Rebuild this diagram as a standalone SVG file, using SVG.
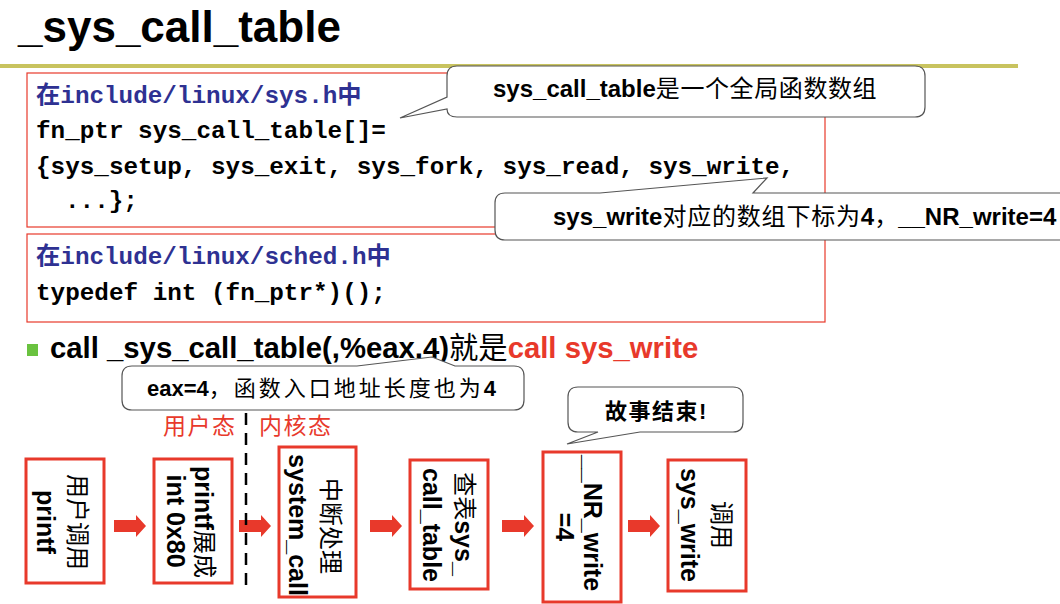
<svg xmlns="http://www.w3.org/2000/svg" xmlns:xlink="http://www.w3.org/1999/xlink" width="1060" height="604" viewBox="0 0 1060 604">
<style>
.sans{font-family:"Liberation Sans","Noto Sans CJK SC",sans-serif;}
.mono{font-family:"Liberation Mono","Noto Sans CJK SC",monospace;font-weight:bold;font-size:24.3px;}
.b{font-weight:bold;}
.hdr{fill:#2e3192;}
.code{fill:#000;}
.codebox{fill:#fff;stroke:#e8392b;stroke-width:1.2;}
.callout{fill:#fff;stroke:#555;stroke-width:1.2;}
.ctext{fill:#000;}
.flow{fill:#fff;stroke:#e8392b;stroke-width:3;}
.vt{font-family:"Liberation Sans","Noto Sans CJK SC",sans-serif;font-size:24px;fill:#000;text-anchor:middle;dominant-baseline:central;}
.lat{font-weight:bold;font-size:25px;}
.red{fill:#e8392b;}
.arrow{fill:#e8392b;}
</style>
<defs>
<path id="blk" d="M0,-6 H22 V-11 L32,0 L22,11 V6 H0 Z"/>
</defs>
<rect width="1060" height="604" fill="#fff"/>

<g id="title">
<text class="sans b" x="18" y="42" font-size="44" fill="#000">_sys_call_table</text>
<rect x="0" y="64" width="1018" height="4" fill="#c8c35f"/>
</g>

<g id="code-sys-h">
<rect class="codebox" x="27" y="73" width="798" height="154"/>
<text class="mono hdr" x="36" y="103">在include/linux/sys.h中</text>
<text class="mono code" x="36" y="138">fn_ptr sys_call_table[]=</text>
<text class="mono code" x="36" y="174">{sys_setup, sys_exit, sys_fork, sys_read, sys_write,</text>
<text class="mono code" x="65" y="208">...};</text>
</g>

<g id="code-sched-h">
<rect class="codebox" x="27" y="234" width="798" height="88"/>
<text class="mono hdr" x="36" y="264">在include/linux/sched.h中</text>
<text class="mono code" x="36" y="300">typedef int (fn_ptr*)();</text>
</g>

<g id="callout-table">
<path class="callout" d="M457,66 H915 Q925,66 925,76 V107 Q925,117 915,117 H457 Q447,117 447,109 L400,118 L447,97 V76 Q447,66 457,66 Z"/>
<text class="sans ctext" x="493" y="97" font-size="24"><tspan class="b">sys_call_table</tspan><tspan letter-spacing="0.6">是一个全局函数数组</tspan></text>
</g>

<g id="callout-index">
<path class="callout" d="M505,193 H600 L767,178 L753,193 H1065 Q1075,193 1075,203 V230 Q1075,240 1065,240 H505 Q495,240 495,230 V203 Q495,193 505,193 Z"/>
<text class="sans ctext" x="553" y="225" font-size="24"><tspan class="b">sys_write</tspan><tspan letter-spacing="0.8">对应的数组下标为</tspan><tspan class="b">4</tspan>，<tspan class="b">__NR_write=4</tspan></text>
</g>

<g id="bullet">
<rect x="27" y="344" width="11" height="12" fill="#6ac23f"/>
<text class="sans" x="50" y="358" font-size="29.3" fill="#000"><tspan class="b">call _sys_call_table(,%eax,4)</tspan>就是<tspan class="b red">call sys_write</tspan></text>
</g>

<g id="callout-eax">
<path class="callout" d="M132,366 H357 L432,357 L455,366 H514 Q524,366 524,376 V400 Q524,410 514,410 H132 Q122,410 122,400 V376 Q122,366 132,366 Z"/>
<text class="sans ctext" x="147" y="396" font-size="22"><tspan class="b">eax=4</tspan><tspan letter-spacing="3">，函数入口地址长度也为</tspan><tspan class="b">4</tspan></text>
</g>

<g id="mode-labels">
<text class="sans red" x="163" y="434" font-size="23" letter-spacing="1.5">用户态</text>
<text class="sans red" x="259" y="434" font-size="23" letter-spacing="1.5">内核态</text>
</g>

<g id="callout-end">
<path class="callout" d="M578,387 H733 Q743,387 743,397 V422 Q743,432 733,432 H640 L567,444 L598,432 H578 Q568,432 568,422 V397 Q568,387 578,387 Z"/>
<text class="sans ctext b" x="605" y="419" font-size="22" letter-spacing="1.5">故事结束!</text>
</g>

<g id="node-printf">
<rect class="flow" x="26" y="459" width="78" height="124"/>
<text class="vt" transform="translate(77,522) rotate(90)">用户调用</text>
<text class="vt lat" transform="translate(46,522) rotate(90)">printf</text>
</g>

<g id="node-int80">
<rect class="flow" x="154" y="459" width="78" height="124"/>
<text class="vt" transform="translate(204,522) rotate(90)"><tspan class="lat">printf</tspan>展成</text>
<text class="vt lat" transform="translate(176,521) rotate(90)">int 0x80</text>
</g>

<g id="node-system-call">
<rect class="flow" x="279" y="447" width="77" height="150"/>
<text class="vt" transform="translate(330,526) rotate(90)">中断处理</text>
<text class="vt lat" transform="translate(298,525) rotate(90)">system_call</text>
</g>

<g id="node-lookup">
<rect class="flow" x="410" y="460" width="78" height="129"/>
<text class="vt" transform="translate(464,524) rotate(90)">查表<tspan class="lat">sys_</tspan></text>
<text class="vt lat" transform="translate(432,525) rotate(90)">call_table</text>
</g>

<g id="node-nr-write">
<rect class="flow" x="543" y="452" width="78" height="150"/>
<text class="vt lat" transform="translate(593,523) rotate(90)">__NR_write</text>
<text class="vt lat" transform="translate(565,527) rotate(90)">=4</text>
</g>

<g id="node-sys-write">
<rect class="flow" x="668" y="460" width="78" height="131"/>
<text class="vt" transform="translate(721,525) rotate(90)">调用</text>
<text class="vt lat" transform="translate(690,525) rotate(90)">sys_write</text>
</g>

<g id="connectors">
<use href="#blk" class="arrow" x="114" y="526"/>
<use href="#blk" class="arrow" x="239" y="526"/>
<use href="#blk" class="arrow" x="370" y="526"/>
<use href="#blk" class="arrow" x="502" y="526"/>
<use href="#blk" class="arrow" x="628" y="526"/>
</g>

<g id="divider">
<line x1="246" y1="413" x2="246" y2="592" stroke="#000" stroke-width="2.5" stroke-dasharray="12 8"/>
</g>
</svg>
